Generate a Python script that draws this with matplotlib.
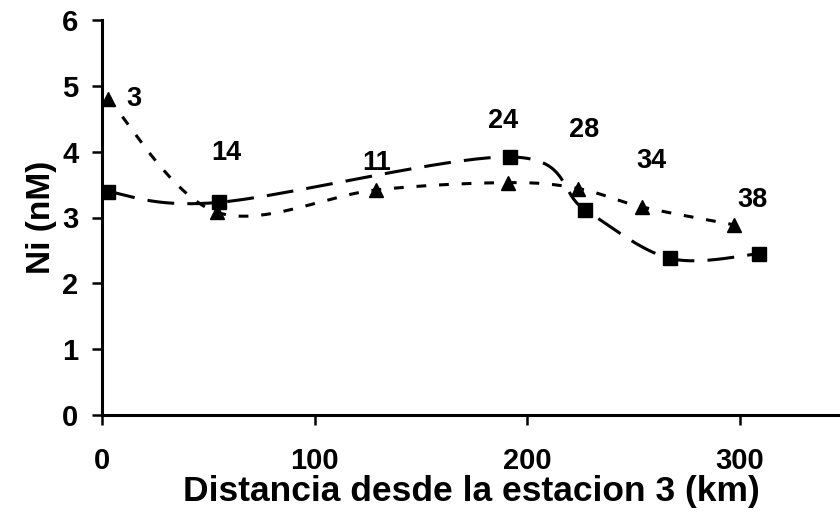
import numpy as np
import matplotlib
matplotlib.use("Agg")
import matplotlib.pyplot as plt

# Station distances (km) and nickel concentrations (nM)
sq_dist = [3, 55, 192, 227, 267, 309]
sq_ni = [3.39, 3.23, 3.92, 3.12, 2.38, 2.45]

tri_dist = [3, 54, 129, 191, 224, 254, 297]
tri_ni = [4.80, 3.08, 3.42, 3.53, 3.44, 3.16, 2.89]

stations = ["3", "14", "11", "24", "28", "34", "38"]
# label offsets (pixels) from each triangle marker
label_off = [(26, 0), (9, 59), (0, 27), (-5, 62), (6, 59), (9, 46), (19, 25)]

plt.rcParams["font.family"] = ["Liberation Sans", "DejaVu Sans"]
plt.rcParams["font.weight"] = "bold"


def smooth(x, y, n=40):
    """Bezier smoothing through every point (spreadsheet-style curve)."""
    x = np.asarray(x, float)
    y = np.asarray(y, float)
    px = np.concatenate([[x[0]], x, [x[-1]]])
    py = np.concatenate([[y[0]], y, [y[-1]]])
    xs, ys = [], []
    t = np.linspace(0, 1, n)
    for i in range(1, len(px) - 2):
        p0 = np.array([px[i], py[i]])
        p3 = np.array([px[i + 1], py[i + 1]])
        p1 = p0 + (p3 - np.array([px[i - 1], py[i - 1]])) / 6
        p2 = p3 - (np.array([px[i + 2], py[i + 2]]) - p0) / 6
        b = ((1 - t) ** 3)[:, None] * p0 + (3 * (1 - t) ** 2 * t)[:, None] * p1 \
            + (3 * (1 - t) * t ** 2)[:, None] * p2 + (t ** 3)[:, None] * p3
        xs.append(b[:, 0])
        ys.append(b[:, 1])
    return np.concatenate(xs), np.concatenate(ys)


fig = plt.figure(figsize=(8.4, 5.18), dpi=100)
ax = fig.add_axes([102 / 840, 1 - 415 / 518, 1 - 102 / 840, (415 - 20) / 518])

sx, sy = smooth(sq_dist, sq_ni)
ax.plot(sx, sy, color="black", lw=2.2, dashes=(8.8, 4.3))
ax.plot(sq_dist, sq_ni, ls="none", marker="s", ms=10, color="black")

tx, ty = smooth(tri_dist, tri_ni)
ax.plot(tx, ty, color="black", lw=2.2, dashes=(3.2, 4.2))
ax.plot(tri_dist, tri_ni, ls="none", marker="^", ms=10.5, color="black")

for xd, yd, lab, off in zip(tri_dist, tri_ni, stations, label_off):
    ax.annotate(lab, (xd, yd), xytext=off, textcoords="offset pixels",
                ha="center", va="center", fontsize=19.5, fontweight="bold")

ax.set_xlim(0, 347)
ax.set_ylim(0, 6)
ax.set_xticks([0, 100, 200, 300])
ax.set_yticks(range(0, 7))
for s in ("top", "right"):
    ax.spines[s].set_visible(False)
for s in ("left", "bottom"):
    ax.spines[s].set_linewidth(2.2)
ax.tick_params(direction="out", length=7, width=1.8, labelsize=21)
ax.tick_params(axis="x", pad=16)
ax.tick_params(axis="y", pad=10)
for lbl in ax.get_xticklabels() + ax.get_yticklabels():
    lbl.set_fontweight("bold")
ax.set_xlabel("Distancia desde la estacion 3 (km)", fontsize=25.5, fontweight="bold", labelpad=0)
ax.set_ylabel("Ni (nM)", fontsize=24, fontweight="bold", labelpad=4)

fig.savefig("out.png", dpi=100)
